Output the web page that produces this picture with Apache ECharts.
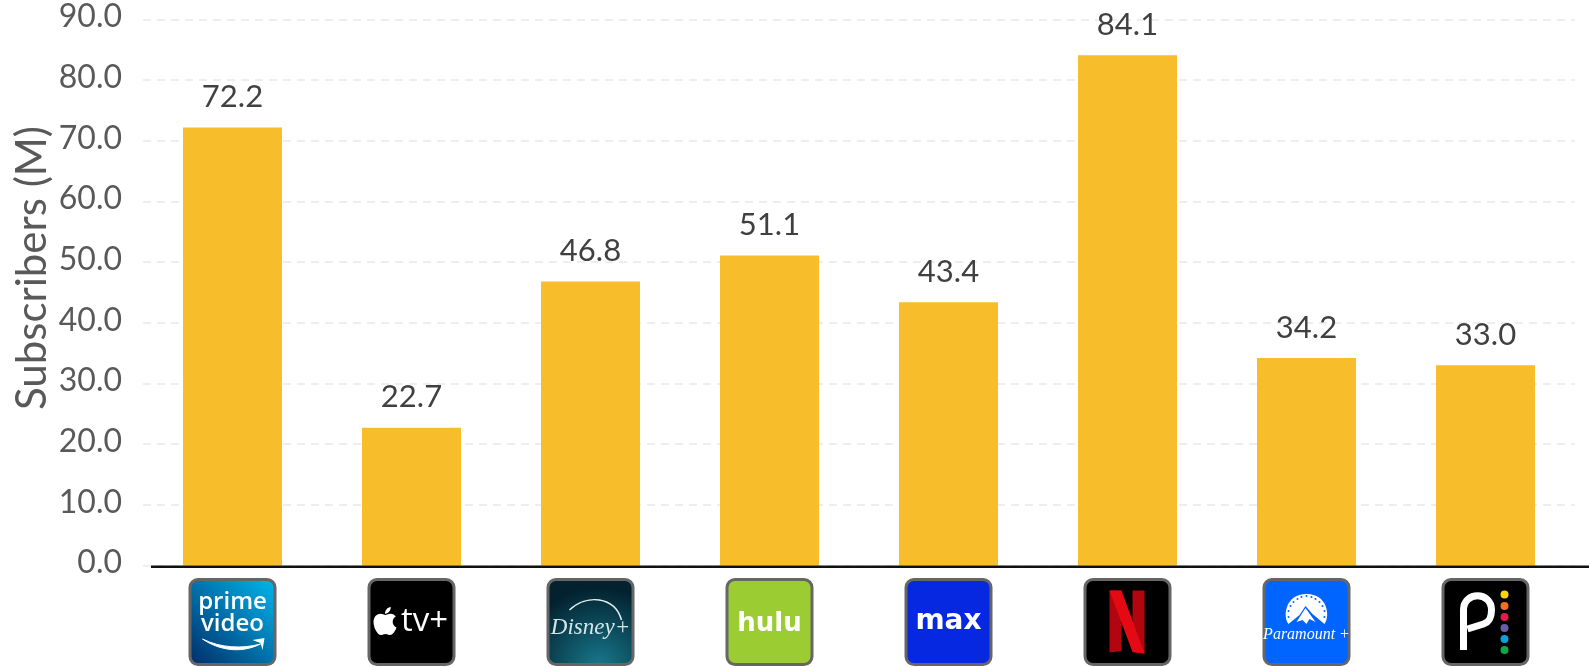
<!DOCTYPE html>
<html><head><meta charset="utf-8">
<style>html,body{margin:0;padding:0;background:#fff}#c{width:1589px;height:667px}</style>
<script src="https://cdn.jsdelivr.net/npm/echarts@6/dist/echarts.min.js"></script>
</head><body><div id="c"></div>
<script>
const services = ['Prime Video','Apple TV+','Disney+','Hulu','Max','Netflix','Paramount+','Peacock'];
const subscribers = [72.2,22.7,46.8,51.1,43.4,84.1,34.2,33.0];
const FONT = 'Lato, "Open Sans", sans-serif';
const APPLE = 'M318.7 268.7c-.2-36.7 16.4-64.4 50-84.8-18.8-26.9-47.2-41.7-84.7-44.6-35.5-2.8-74.3 20.7-88.5 20.7-15 0-49.4-19.7-76.4-19.7C63.3 141.2 4 184.8 4 273.5q0 39.3 14.4 81.2c12.8 36.7 59 126.7 107.2 125.2 25.2-.6 43-17.9 75.8-17.9 31.8 0 48.3 17.9 76.4 17.9 48.6-.7 90.4-82.5 102.6-119.3-65.2-30.7-61.7-90-61.7-91.9zm-56.6-164.2c27.3-32.4 24.8-61.9 24-72.5-24.1 1.4-52 16.4-67.9 34.9-17.5 19.8-27.8 44.3-25.6 71.9 26.1 2 49.9-11.4 69.5-34.3z';
const txt=(t,x,y,font,fill)=>({type:'text',style:{text:t,x,y,fill:fill||'#fff',font,align:'center',verticalAlign:'middle'}});
const poly=(pts,fill)=>({type:'polygon',shape:{points:pts},style:{fill}});
const lin=(x,y,x2,y2,a,b)=>new echarts.graphic.LinearGradient(x,y,x2,y2,[{offset:0,color:a},{offset:1,color:b}]);
const paramountStars=[[26,39],[26,33],[28,28],[31,24],[35,21],[39,19],[44,18],[49,19],[53,21],[57,24],[60,28],[62,33],[62,39]];
const logos=[
 {bg:lin(1,0,0,1,'#00b9ee','#002b68'),parts:[
   txt('prime',44,24,'600 24px "Open Sans", sans-serif'),
   txt('video',44,46,'600 24px "Open Sans", sans-serif'),
   {type:'path',shape:{pathData:'M14 61C30 72 52 76 72 66C54 71 32 70 14 61Z',layout:'none'},style:{fill:'#fff',stroke:'#fff',lineWidth:1}},
   poly([[64,62],[76,60],[74,72],[72,65]],'#fff')]},
 {bg:'#000',parts:[
   {type:'path',shape:{pathData:APPLE,x:6,y:29,width:23,height:28,layout:'cover'},style:{fill:'#fff'}},
   txt('tv+',57,44,'500 33px "Open Sans", sans-serif')]},
 {bg:new echarts.graphic.RadialGradient(0.6,1,0.9,[{offset:0,color:'#17788c'},{offset:1,color:'#03212e'}]),parts:[
   txt('Disney+',44,50,'italic 400 23px "Liberation Serif", serif','#d5e6ea'),
   {type:'path',shape:{pathData:'M23 32C40 16 68 18 75 42',layout:'none'},style:{fill:'none',stroke:'#e4eff2',lineWidth:1.5}}]},
 {bg:'#9bcc32',parts:[txt('hulu',44,46,'bold 26px "DejaVu Sans", sans-serif')]},
 {bg:'#0528e0',parts:[txt('max',44,44,'bold 28px "DejaVu Sans", sans-serif')]},
 {bg:'#000',parts:[
   poly([[26,12.5],[38,12.5],[38,73],[26,74.5]],'#b1060f'),
   poly([[49,12.5],[61,12.5],[61,75.5],[49,74]],'#b1060f'),
   poly([[26,12.5],[38,12.5],[61,75.5],[49,74]],'#e50914')]},
 {bg:'#0064ff',parts:[
   {type:'path',shape:{pathData:'M26 46C20 38 23 16 44 16C65 16 68 38 62 46L50 36L43 28L37 37Z',layout:'none'},style:{fill:'#fff'}},
   ...paramountStars.map(([cx,cy])=>({type:'circle',shape:{cx,cy,r:1},style:{fill:'#0064ff'}})),
   poly([[34,44],[43,30],[53,44],[47,41],[44,46],[40,42]],'#fff'),
   txt('Paramount +',44,57,'italic 400 16px "Liberation Serif", serif')]},
 {bg:'#000',parts:[
   {type:'path',shape:{pathData:'M22 72V32C22 13 50 13 50 32C50 40 48 44 42 46L26 51',layout:'none'},style:{fill:'none',stroke:'#fff',lineWidth:7}},
   ...[['#ffd400',16.5],['#f37021',28],['#e6194b',39],['#6a5ca8',50],['#0aa0dc',61],['#0da84a',72]].map(([c,y])=>({type:'circle',shape:{cx:63,cy:y,r:4},style:{fill:c}}))]}
];
function renderLogo(params,api){
  const i=api.value(0), base=api.coord([i,0]);
  const l=logos[i];
  return {type:'group',x:Math.round(base[0])-44.5,y:578,children:[
    {type:'rect',shape:{x:1.5,y:1.5,width:85,height:85,r:8},style:{fill:l.bg,stroke:'#666',lineWidth:3}},
    ...l.parts]};
}
const chart=echarts.init(document.getElementById('c'),null,{renderer:'canvas'});
chart.setOption({
  animation:false,
  grid:{left:143,top:19.5,width:1432,height:546,containLabel:false,outerBoundsMode:'none'},
  xAxis:{type:'category',data:services,axisLine:{show:false},axisTick:{show:false},axisLabel:{show:false}},
  yAxis:{type:'value',min:0,max:90,interval:10,name:'Subscribers (M)',nameLocation:'middle',nameGap:90,nameRotate:90,nameMoveOverlap:false,
    nameTextStyle:{color:'#595959',fontSize:42,fontFamily:FONT,padding:[0,0,0,49]},
    axisLine:{show:false},axisTick:{show:false},
    axisLabel:{color:'#595959',fontSize:32,fontFamily:FONT,margin:21,verticalAlign:'bottom',lineHeight:5,formatter:v=>v.toFixed(1)},
    splitLine:{lineStyle:{color:'#eeeeee',width:2,type:[8,6]}}},
  graphic:[{type:'line',z:10,shape:{x1:151,y1:566.8,x2:1589,y2:566.8},style:{stroke:'#111',lineWidth:2.5}}],
  series:[
    {type:'bar',data:subscribers,barWidth:99,itemStyle:{color:'#f8bd2a'},
     label:{show:true,position:'top',distance:15,color:'#404040',fontSize:31,fontFamily:FONT,formatter:p=>p.value.toFixed(1)}},
    {type:'custom',data:services.map((s,i)=>[i]),encode:{x:0},clip:false,silent:true,renderItem:renderLogo}
  ]
});
</script></body></html>
